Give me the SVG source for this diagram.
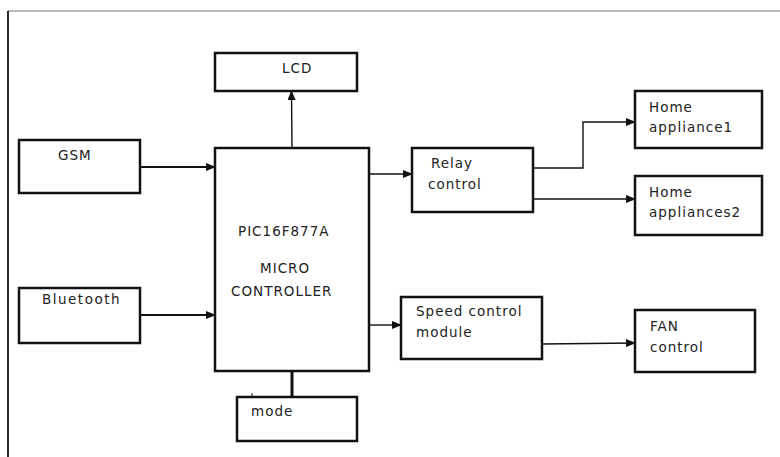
<svg xmlns="http://www.w3.org/2000/svg" width="780" height="457" viewBox="0 0 780 457">
<style>
.box{fill:#fff;stroke:#111;stroke-width:2.5}
.t{font-family:"DejaVu Sans",Verdana,sans-serif;font-size:13.5px;fill:#222;letter-spacing:1px}
.c{fill:none;stroke:#111;stroke-width:1.4}
</style>
<defs>
<marker id="ah" markerWidth="10" markerHeight="8" refX="9" refY="4" orient="auto" markerUnits="userSpaceOnUse">
<path d="M0,0 L10,4 L0,8 Z" fill="#111"/>
</marker>
</defs>
<rect width="780" height="457" fill="#fff"/>
<g id="frame">
<line x1="8" y1="11" x2="780" y2="11" stroke="#777" stroke-width="1.2"/>
<line x1="8" y1="11" x2="8" y2="457" stroke="#111" stroke-width="1.8"/>
</g>
<g id="connectors">
<line class="c" x1="141" y1="167" x2="215" y2="167" marker-end="url(#ah)" style="stroke-width:2"/>
<line class="c" x1="141" y1="315" x2="215" y2="315" marker-end="url(#ah)" style="stroke-width:2"/>
<line class="c" x1="292" y1="148" x2="291.5" y2="91" marker-end="url(#ah)"/>
<line class="c" x1="369" y1="174" x2="412" y2="174" marker-end="url(#ah)"/>
<line class="c" x1="369" y1="325" x2="401" y2="325" marker-end="url(#ah)"/>
<polyline class="c" points="533,168 583,168 583,122 635,122" marker-end="url(#ah)"/>
<line class="c" x1="533" y1="199" x2="635" y2="199" marker-end="url(#ah)"/>
<line class="c" x1="542" y1="344" x2="635" y2="343" marker-end="url(#ah)"/>
<line x1="292" y1="371" x2="292" y2="397" stroke="#111" stroke-width="3"/>
<line x1="252" y1="393" x2="252" y2="399" stroke="#111" stroke-width="1"/>
</g>
<g id="lcd"><rect class="box" x="215" y="53" width="142" height="38"/><text class="t" x="282" y="73">LCD</text></g>
<g id="gsm"><rect class="box" x="19" y="140" width="121" height="53"/><text class="t" x="58" y="160">GSM</text></g>
<g id="bluetooth"><rect class="box" x="19" y="288" width="121" height="55"/><text class="t" x="42" y="304" style="letter-spacing:1.5px">Bluetooth</text></g>
<g id="mcu"><rect class="box" x="215" y="148" width="154" height="223"/>
<text class="t" x="238" y="236">PIC16F877A</text>
<text class="t" x="260" y="273">MICRO</text>
<text class="t" x="231" y="296">CONTROLLER</text></g>
<g id="mode"><rect class="box" x="237" y="397" width="120" height="44"/><text class="t" x="251" y="416">mode</text></g>
<g id="relay"><rect class="box" x="412" y="148" width="121" height="64"/>
<text class="t" x="431" y="168">Relay</text><text class="t" x="428" y="189">control</text></g>
<g id="ha1"><rect class="box" x="635" y="91" width="127" height="57"/>
<text class="t" x="649" y="112">Home</text><text class="t" x="649" y="132">appliance1</text></g>
<g id="ha2"><rect class="box" x="635" y="176" width="127" height="59"/>
<text class="t" x="649" y="197">Home</text><text class="t" x="649" y="217">appliances2</text></g>
<g id="speed"><rect class="box" x="401" y="297" width="141" height="62"/>
<text class="t" x="416" y="316">Speed control</text><text class="t" x="416" y="337">module</text></g>
<g id="fan"><rect class="box" x="635" y="310" width="120" height="62"/>
<text class="t" x="650" y="331">FAN</text><text class="t" x="650" y="352">control</text></g>
</svg>
